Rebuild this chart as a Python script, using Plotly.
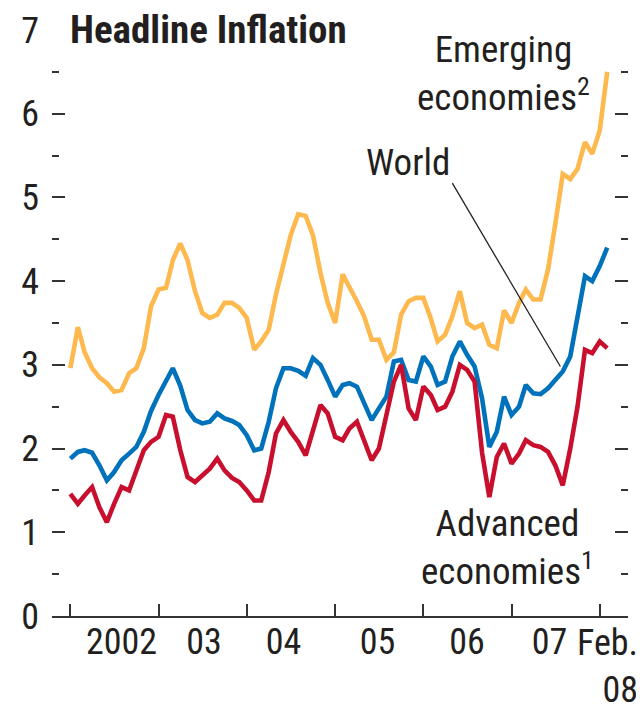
import pandas as pd
import plotly.graph_objects as go

# Monthly data, Jan 2002 - Feb 2008 (percent change, 12-month)
months = pd.date_range("2002-01-01", periods=74, freq="MS")

emerging = [2.96, 3.45, 3.15, 2.96, 2.85, 2.78, 2.68, 2.70, 2.90, 2.96,
            3.20, 3.70, 3.90, 3.92, 4.25, 4.45, 4.25, 3.88, 3.62, 3.56,
            3.60, 3.74, 3.74, 3.68, 3.56, 3.18, 3.28, 3.42, 3.84, 4.20,
            4.55, 4.80, 4.78, 4.55, 4.10, 3.74, 3.50, 4.08, 3.94, 3.76,
            3.58, 3.30, 3.30, 3.06, 3.15, 3.60, 3.76, 3.80, 3.80, 3.55,
            3.28, 3.36, 3.58, 3.88, 3.50, 3.44, 3.48, 3.24, 3.20, 3.65,
            3.50, 3.74, 3.90, 3.78, 3.78, 4.14, 4.68, 5.28, 5.22, 5.34,
            5.66, 5.52, 5.80, 6.50]

world = [1.88, 1.96, 1.98, 1.95, 1.80, 1.62, 1.72, 1.86, 1.94, 2.02,
         2.20, 2.45, 2.64, 2.80, 2.96, 2.75, 2.46, 2.34, 2.30, 2.32,
         2.42, 2.36, 2.33, 2.28, 2.16, 1.98, 2.00, 2.32, 2.72, 2.96,
         2.96, 2.93, 2.87, 3.08, 3.00, 2.82, 2.62, 2.76, 2.78, 2.74,
         2.54, 2.34, 2.48, 2.62, 3.04, 3.06, 2.82, 2.80, 3.10, 2.98,
         2.76, 2.80, 3.10, 3.28, 3.12, 2.98, 2.60, 2.02, 2.20, 2.62,
         2.40, 2.50, 2.76, 2.66, 2.65, 2.72, 2.82, 2.92, 3.10, 3.60,
         4.06, 4.00, 4.18, 4.40]

advanced = [1.46, 1.34, 1.44, 1.54, 1.30, 1.12, 1.34, 1.54, 1.50, 1.74,
            1.98, 2.08, 2.14, 2.40, 2.38, 1.98, 1.66, 1.60, 1.68, 1.76,
            1.88, 1.74, 1.65, 1.60, 1.50, 1.38, 1.38, 1.72, 2.18, 2.34,
            2.20, 2.08, 1.92, 2.20, 2.52, 2.42, 2.14, 2.10, 2.24, 2.32,
            2.10, 1.86, 2.00, 2.40, 2.80, 3.00, 2.48, 2.34, 2.74, 2.64,
            2.46, 2.50, 2.68, 3.00, 2.94, 2.80, 1.95, 1.42, 1.90, 2.06,
            1.82, 1.94, 2.10, 2.04, 2.02, 1.96, 1.80, 1.56, 2.00, 2.50,
            3.18, 3.14, 3.28, 3.20]

year_label_pos = ["2002-08-01", "2003-07-08", "2004-06-01", "2005-06-25",
                  "2006-07-01", "2007-06-07"]
year_labels = ["2002", "03", "04", "05", "06", "07"]
year_starts = [f"{y}-01-01" for y in range(2002, 2009)]

FONT = ("Noto Sans Condensed, Roboto Condensed, Liberation Sans Narrow, "
        "Liberation Sans, Arial, sans-serif")
TXT = "#231f20"
AX = "#333333"
FS = 36

fig = go.Figure()
fig.add_trace(go.Scatter(x=months, y=emerging, mode="lines",
                         line=dict(color="#FDB94E", width=4.6), name="Emerging"))
fig.add_trace(go.Scatter(x=months, y=world, mode="lines",
                         line=dict(color="#0072BC", width=4.6), name="World"))
fig.add_trace(go.Scatter(x=months, y=advanced, mode="lines",
                         line=dict(color="#C8102E", width=4.6), name="Advanced"))

# The page body has an 8px margin, so the figure is drawn 8px in from the corner.
OFF = 8
W, H = 644 - OFF, 706 - OFF
PL, PR, PT, PB = 52, 628, 30, 616.5          # plot box in page pixels
L, R, T, B = PL - OFF, W - (PR - OFF), PT - OFF, H - (PB - OFF)
pw, ph = W - L - R, H - T - B


def px(x):
    return (x - PL) / pw


def py(y):
    return (PB - y) / ph


fig.add_shape(type="line", x0="2006-05-01", y0=5.17, x1="2007-07-22", y1=2.98,
              line=dict(color="#222222", width=1.3))

annos = [
    dict(text="<b>Headline Inflation</b>", x=px(68), y=py(30), xanchor="left",
         yanchor="middle", size=39),
    dict(text="Emerging<br>economies<sup>2</sup>", x=px(503), y=py(74),
         xanchor="center", yanchor="middle", size=37),
    dict(text="World", x=px(408), y=py(163), xanchor="center",
         yanchor="middle", size=37),
    dict(text="Advanced<br>economies<sup>1</sup>", x=px(507), y=py(548),
         xanchor="center", yanchor="middle", size=37),
    dict(text="Feb.<br>08", x=px(640), y=py(621), xanchor="right",
         yanchor="top", align="right", size=36),
]
for a in annos:
    fig.add_annotation(text=a["text"], x=a["x"], y=a["y"], xref="paper",
                       yref="paper", xanchor=a["xanchor"], yanchor=a["yanchor"],
                       showarrow=False, align=a.get("align", "center"),
                       font=dict(family=FONT, size=a["size"], color=TXT))

fig.update_layout(
    width=W, height=H, margin=dict(l=L, r=R, t=T, b=B, autoexpand=False),
    paper_bgcolor="white", plot_bgcolor="white", showlegend=False,
    font=dict(family=FONT, size=FS, color=TXT),
    xaxis=dict(
        type="date", range=["2001-10-17", "2008-04-27"], automargin=False,
        tickmode="array", tickvals=year_label_pos, ticktext=year_labels,
        ticks="", showgrid=False, zeroline=False, ticklabelstandoff=-7,
        showline=True, linecolor=AX, linewidth=2,
        tickfont=dict(family=FONT, size=FS, color=TXT),
        minor=dict(tickmode="array", tickvals=year_starts, ticks="inside",
                   ticklen=12, tickwidth=2, tickcolor=AX, showgrid=False),
    ),
    yaxis=dict(
        range=[0, 7], tickmode="array", tickvals=[0, 1, 2, 3, 4, 5, 6, 7],
        ticks="inside", ticklen=13, tickwidth=2, tickcolor=AX, automargin=False,
        showgrid=False, zeroline=False, showline=False, mirror="ticks",
        ticklabelstandoff=12,
        tickfont=dict(family=FONT, size=FS, color=TXT),
        minor=dict(tickmode="array", tickvals=[0.5, 1.5, 2.5, 3.5, 4.5, 5.5, 6.5],
                   ticks="inside", ticklen=7, tickwidth=2, tickcolor=AX,
                   showgrid=False),
    ),
)

fig.write_html("out.html")
